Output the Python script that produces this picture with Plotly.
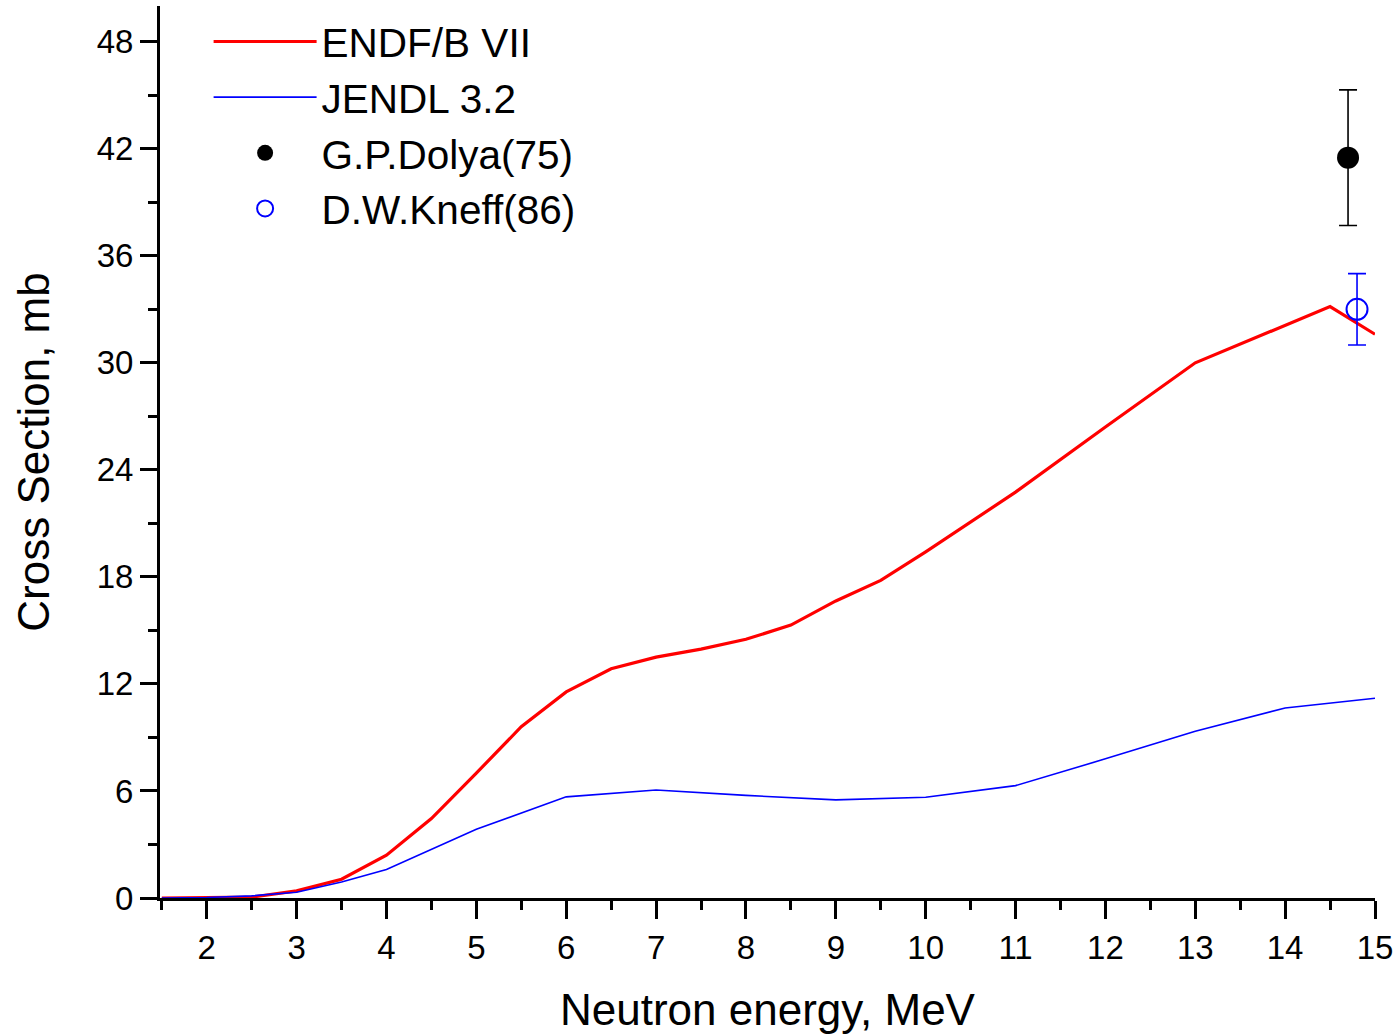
import plotly.graph_objects as go

# ENDF/B VII evaluation
endf_x = [1.5, 2, 2.5, 3, 3.5, 4, 4.5, 5, 5.5, 6, 6.5, 7, 7.5, 8, 8.5, 9, 9.5, 10, 11, 12, 13, 14.5, 15]
endf_y = [0, 0.02, 0.05, 0.4, 1.05, 2.4, 4.45, 7.0, 9.6, 11.55, 12.85, 13.5, 13.95, 14.5, 15.3, 16.65, 17.8, 19.4, 22.75, 26.4, 30.0, 33.15, 31.6]

# JENDL 3.2 evaluation
jendl_x = [1.5, 2, 2.5, 3, 3.5, 4, 5, 6, 7, 8, 9, 10, 11, 12, 13, 14, 15]
jendl_y = [0, 0.03, 0.12, 0.32, 0.9, 1.6, 3.85, 5.67, 6.05, 5.75, 5.5, 5.65, 6.3, 7.8, 9.35, 10.65, 11.2]

# Experimental points
dolya_x = [14.7]
dolya_y = [41.5]
dolya_err = [3.8]

kneff_x = [14.8]
kneff_y = [33.0]
kneff_err = [2.0]

x_ticks = [2, 3, 4, 5, 6, 7, 8, 9, 10, 11, 12, 13, 14, 15]
y_ticks = [0, 6, 12, 18, 24, 30, 36, 42, 48]

FONT = "Liberation Sans, Arial, sans-serif"

fig = go.Figure()
fig.add_trace(go.Scatter(x=endf_x, y=endf_y, mode="lines", name="ENDF/B VII",
                         line=dict(color="#ff0000", width=3.2)))
fig.add_trace(go.Scatter(x=jendl_x, y=jendl_y, mode="lines", name="JENDL 3.2",
                         line=dict(color="#0000ff", width=1.6)))
fig.add_trace(go.Scatter(x=dolya_x, y=dolya_y, mode="markers", name="G.P.Dolya(75)",
                         marker=dict(symbol="circle", size=22, color="black"),
                         error_y=dict(type="data", array=dolya_err, color="black",
                                      thickness=1.6, width=9)))
fig.add_trace(go.Scatter(x=kneff_x, y=kneff_y, mode="markers", name="D.W.Kneff(86)",
                         marker=dict(symbol="circle-open", size=21, color="#0000ff",
                                     line=dict(width=2, color="#0000ff")),
                         error_y=dict(type="data", array=kneff_err, color="#0000ff",
                                      thickness=1.6, width=9)))

fig.update_layout(
    width=1400, height=1034,
    margin=dict(l=160, r=25, t=6, b=136),
    paper_bgcolor="white", plot_bgcolor="white",
    font=dict(family=FONT, color="black"),
    showlegend=True,
    legend=dict(x=0.04, y=0.997, xanchor="left", yanchor="top",
                font=dict(size=40.5, family=FONT, color="black"),
                bgcolor="rgba(0,0,0,0)", borderwidth=0,
                itemwidth=103, tracegroupgap=0),
)

fig.update_xaxes(
    range=[1.48, 15], tickmode="array", tickvals=x_ticks,
    ticktext=[str(v) for v in x_ticks],
    showgrid=False, zeroline=False, showline=True, linecolor="black", linewidth=3,
    ticks="outside", ticklen=18, tickwidth=3, tickcolor="black",
    tickfont=dict(size=33, family=FONT, color="black"),
    minor=dict(dtick=0.5, tick0=1.5, ticks="outside", ticklen=9, tickwidth=3,
               tickcolor="black", showgrid=False),
    title=dict(text="Neutron energy, MeV", font=dict(size=44, family=FONT, color="black"),
               standoff=32),
)
fig.update_yaxes(
    range=[0, 50], tickmode="array", tickvals=y_ticks,
    ticktext=[str(v) for v in y_ticks],
    showgrid=False, zeroline=False, showline=True, linecolor="black", linewidth=3,
    ticks="outside", ticklen=17, tickwidth=3, tickcolor="black",
    tickfont=dict(size=33, family=FONT, color="black"),
    minor=dict(dtick=3, tick0=0, ticks="outside", ticklen=9, tickwidth=3,
               tickcolor="black", showgrid=False),
    title=dict(text="Cross Section, mb", font=dict(size=44, family=FONT, color="black"),
               standoff=34),
)

fig.write_html("out.html")
